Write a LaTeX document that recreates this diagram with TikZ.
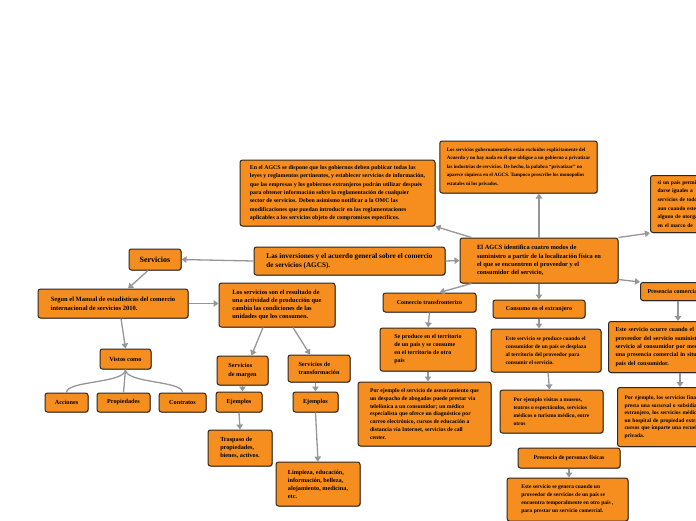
\documentclass[tikz,border=0pt]{standalone}
\usepackage{fontspec}
\setmainfont{Liberation Serif}
\usetikzlibrary{arrows.meta,shadows}
\definecolor{boxfill}{RGB}{246,141,31}
\definecolor{boxline}{RGB}{45,40,35}
\definecolor{conngray}{RGB}{150,150,150}
\newcommand\fs[2]{\fontsize{#1}{#2}\selectfont\bfseries}
\newcommand\bx[7]{\node[box,#6,minimum width={#4-#2},minimum height={#5-#3}] (#1) at ({(#2+#4)/2},{(#3+#5)/2}) {#7};}
\tikzset{
  box/.style={draw=boxline, fill=boxfill, line width=1pt, rounded corners=2.5pt,
    inner xsep=7pt, inner ysep=2pt, text=black, align=left,
    drop shadow={shadow xshift=0.8pt, shadow yshift=-0.8pt, opacity=0.35, fill=black}},
  conn/.style={draw=conngray, line width=1.3pt, -{Triangle[width=6.5pt,length=5pt]}},
  link/.style={draw=conngray, line width=1.3pt}
}
\begin{document}
\begin{tikzpicture}[x=1pt,y=-1pt]
\useasboundingbox (0,0) rectangle (696,520);
\clip (0,0) rectangle (696,520);

% top boxes
\bx{gob}{446}{141}{591}{193}{font=\fs{5}{8.4}}{Los servicios gubernamentales están excluidos explícitamente del\\Acuerdo y no hay nada en él que obligue a un gobierno a privatizar\\las industrias de servicios. De hecho, la palabra “privatizar” no\\aparece siquiera en el AGCS. Tampoco proscribe los monopolios\\estatales ni los privados.}
\bx{info}{240}{160}{435}{226}{font=\fs{5.9}{8.3}}{En el AGCS se dispone que los gobiernos deben publicar todas las\\leyes y reglamentos pertinentes, y establecer servicios de información,\\que las empresas y los gobiernos extranjeros podrán utilizar después\\para obtener información sobre la reglamentación de cualquier\\sector de servicios. Deben asimismo notificar a la OMC las\\modificaciones que puedan introducir en las reglamentaciones\\aplicables a los servicios objeto de compromisos específicos.}
\node[box, font=\fs{5.5}{8.7}, text width=114pt, minimum height=57pt, anchor=north west] (rt) at (650,175) {si un país permite\\darse iguales a\\servicios de todos\\aun cuando este\\alguno de otorgar\\en el marco de};

% centre row
\bx{serv}{129}{249}{181}{270}{font=\fs{8}{9},align=center}{Servicios}
\bx{main}{254}{247}{445}{275}{font=\fs{7.2}{9}}{Las inversiones y el acuerdo general sobre el comercio\\de servicios (AGCS).}
\bx{agcs}{460}{238}{618}{283}{font=\fs{6.4}{8.3}}{El AGCS identifica cuatro modos de\\suministro a partir de la localización física en\\el que se encuentren el proveedor y el\\consumidor del servicio,}

% left branch
\bx{segun}{38}{289}{188}{318}{font=\fs{6.5}{9}}{Segun el Manual de estadísticas del comercio\\internacional de servicios 2010.}
\bx{ls}{219}{283}{335}{327}{font=\fs{6.4}{8}}{Los servicios son el resultado de\\una actividad de producción que\\cambia las condiciones de las\\unidades que los consumen.}
\bx{vis}{100}{349}{151}{369}{font=\fs{6.3}{8},align=center}{Vistos como}
\bx{acc}{45}{393}{88}{412}{font=\fs{6.2}{8},align=center}{Acciones}
\bx{prop}{97}{393}{150}{412}{font=\fs{6.2}{8},align=center}{Propiedades}
\bx{contr}{159}{393}{206}{412}{font=\fs{6.2}{8},align=center}{Contratos}
\bx{marg}{217}{356}{268}{385}{font=\fs{6.2}{8.5}}{Servicios\\de margen}
\bx{transf}{288}{355}{350}{382}{font=\fs{6.2}{8.5}}{Servicios de\\transformación}
\bx{ej1}{216}{392}{262}{412}{font=\fs{6.2}{8},align=center}{Ejemplos}
\bx{ej2}{293}{392}{338}{412}{font=\fs{6.2}{8},align=center}{Ejemplos}
\bx{trasp}{208}{430}{272}{466}{font=\fs{6.2}{8.3}}{Traspaso de\\propiedades,\\bienes, activos.}
\bx{limp}{276}{462}{360}{506}{font=\fs{6.2}{8}}{Limpieza, educación,\\información, belleza,\\alojamiento, medicina,\\etc.}

% modes
\bx{com}{383}{293}{476}{312}{font=\fs{6}{8},align=center}{Comercio transfronterizo}
\bx{sep}{380}{328}{476}{371}{font=\fs{6}{8}}{Se produce en el territorio\\de un país y se consume\\en el territorio de otro\\país}
\bx{pej1}{358}{382}{491}{446}{font=\fs{5.7}{7.7}}{Por ejemplo el servicio de asesoramiento que\\un despacho de abogados puede prestar vía\\telefónica a un consumidor; un médico\\especialista que ofrece un diagnóstico por\\correo electrónico, cursos de educación a\\distancia vía Internet, servicios de call\\center.}
\bx{cons}{493}{300}{585}{318}{font=\fs{6}{8},align=center}{Consumo en el extranjero}
\bx{este1}{491}{329}{601}{372}{font=\fs{5.5}{8}}{Este servicio se produce cuando el\\consumidor de un país se desplaza\\al territorio del proveedor  para\\consumir el servicio.}
\bx{vst}{500}{390}{603}{433}{font=\fs{5.5}{8}}{Por ejemplo visitas a museos,\\teatros o espectáculos, servicios\\médicos o turismo médico, entre\\otros}
\bx{ppf}{518}{448}{620}{468}{font=\fs{5.8}{8},align=center}{Presencia de personas físicas}
\bx{gen}{507}{478}{628}{521}{font=\fs{5.5}{8}}{Este servicio se genera cuando un\\proveedor de servicios de un país  se\\encuentra temporalmente en otro país ,\\para prestar un servicio comercial.}
\node[box, font=\fs{6}{8}, text width=126pt, minimum height=18pt, anchor=north west] (prescom) at (640,282) {Presencia comercial};
\node[box, font=\fs{6}{8.3}, text width=150pt, minimum height=51pt, anchor=north west] (ocurre) at (608,321) {Este servicio ocurre cuando el\\proveedor del servicio  suministra el\\servicio al consumidor por medio de\\una presencia comercial in situ en el\\país del consumidor.};
\node[box, font=\fs{5.5}{7.5}, text width=150pt, minimum height=59pt, anchor=north west] (fin) at (617,387) {Por ejemplo, los servicios financieros que\\presta una sucursal o subsidiaria en el\\extranjero, los servicios médicos que presta\\un hospital de propiedad extranjera, los\\cursos que imparte una escuela\\privada.};

% connectors
\draw[conn] (main.west) -- (serv.east);
\draw[conn] ([xshift=-7pt]serv.south) -- ([xshift=15pt]segun.north);
\draw[conn] (segun.east) -- (segun.east -| ls.west);
\draw[conn] ([xshift=8pt]segun.south) -- (vis.north);
\draw[link] (vis.south) .. controls +(0,14) and +(0,-12) .. (acc.north);
\draw[link] (vis.south) -- (prop.north);
\draw[link] (vis.south) .. controls +(0,14) and +(0,-12) .. (contr.north);
\draw[conn] ([xshift=-14pt]ls.south) -- ([xshift=9pt]marg.north);
\draw[conn] ([xshift=16pt]ls.south) -- ([xshift=-9pt]transf.north);
\draw[conn] (marg.south) -- (marg.south |- ej1.north);
\draw[conn] (ej2.north |- transf.south) -- (ej2.north);
\draw[conn] (ej1.south) -- (trasp.north);
\draw[conn] (ej2.south) -- (limp.north);
\draw[conn] (main.east) -- (agcs.west);
\draw[conn] (agcs.north) -- (agcs.north |- gob.south);
\draw[conn] ([xshift=12pt]agcs.north west) -- (info.south east);
\draw[conn] (agcs.north east) -- (rt.south west);
\draw[conn] ([xshift=12pt]agcs.south west) -- ([xshift=10pt]com.north);
\draw[conn] (agcs.south) -- (cons.north);
\draw[conn] ([yshift=4pt]agcs.south east) -- (prescom.north west);
\draw[conn] (com.south) -- (sep.north);
\draw[conn] (sep.south) -- (sep.south |- pej1.north);
\draw[conn] (cons.south) -- (cons.south |- este1.north);
\draw[conn] ([xshift=2pt]este1.south) -- ([xshift=-2pt]vst.north);
\draw[conn] (ppf.south) -- (ppf.south |- gen.north);
\coordinate (pc1) at ([xshift=38pt]prescom.south west);
\draw[conn] (pc1) -- (pc1 |- ocurre.north);
\coordinate (oc1) at ([xshift=72pt]ocurre.south west);
\draw[conn] (oc1) -- (oc1 |- fin.north);
\end{tikzpicture}
\end{document}
